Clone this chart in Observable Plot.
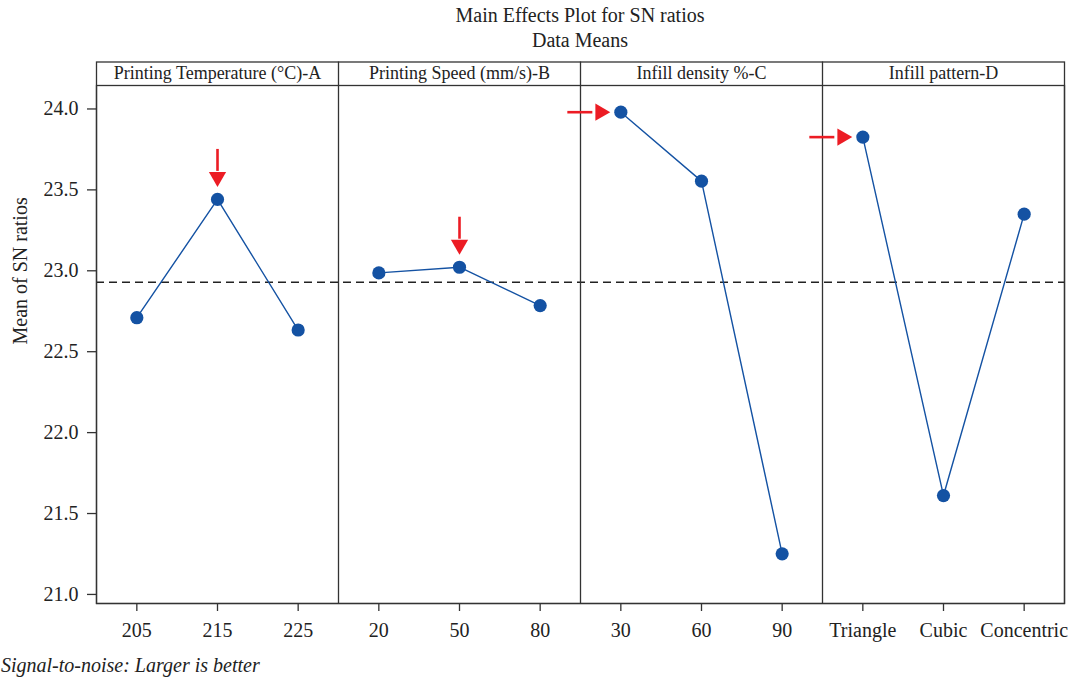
<!DOCTYPE html>
<html>
<head>
<meta charset="utf-8">
<script src="https://cdn.jsdelivr.net/npm/d3@7"></script>
<script src="https://cdn.jsdelivr.net/npm/@observablehq/plot@0.6"></script>
<style>
  html, body { margin: 0; padding: 0; background: #fff; }
  body { position: relative; width: 1077px; height: 682px; overflow: hidden; font-family: "Liberation Serif", serif; color: #222; }
  #title { position: absolute; left: 330px; width: 500px; top: 3px; text-align: center; font-size: 20px; line-height: 24.5px; }
  #chart { position: absolute; left: 0; top: 0; }
  #caption { position: absolute; left: 1px; top: 653px; font-size: 20px; line-height: 24px; font-style: italic; white-space: nowrap; }
</style>
</head>
<body>
<div id="chart"></div>
<div id="title">Main Effects Plot for SN ratios<br>Data Means</div>
<div id="caption">Signal-to-noise: Larger is better</div>
<script>
// ---- data ----
const factors = ["Printing Temperature (°C)-A", "Printing Speed (mm/s)-B", "Infill density %-C", "Infill pattern-D"];
const levelsA = ["205", "215", "225"];
const levelsB = ["20", "50", "80"];
const levelsC = ["30", "60", "90"];
const levelsD = ["Triangle", "Cubic", "Concentric"];
const snA = [22.710, 23.441, 22.634];
const snB = [22.987, 23.022, 22.785];
const snC = [23.980, 23.554, 21.251];
const snD = [23.826, 21.611, 23.350];
const arrowDir = ["down", "down", "right", "right"];
const yTicks = [21.0, 21.5, 22.0, 22.5, 23.0, 23.5, 24.0];

// ---- build table ----
const levels = [levelsA, levelsB, levelsC, levelsD];
const sns = [snA, snB, snC, snD];
const rows = [];
const groups = [];
let k = 0;
factors.forEach((f, i) => {
  const start = k;
  levels[i].forEach((lab, j) => { rows.push({factor: f, level: lab, idx: k, sn: sns[i][j]}); k++; });
  groups.push({factor: f, start, end: k - 1, center: (start + k - 1) / 2, dir: arrowDir[i]});
});
const labels = rows.map(r => r.level);
const boundaries = groups.slice(1).map(g => g.start - 0.5);
const grandMean = d3.mean(rows, r => r.sn);
const best = groups.map(g => ({...d3.greatest(rows.filter(r => r.factor === g.factor), r => r.sn), dir: g.dir}));
const downs = best.filter(b => b.dir === "down");
const rights = best.filter(b => b.dir === "right");

const blue = "#1452a3";
const red = "#ec1c24";
const ink = "#333";

const chart = Plot.plot({
  width: 1077,
  height: 650,
  marginLeft: 96,
  marginRight: 13,
  marginTop: 85,
  marginBottom: 47,
  style: {fontFamily: "'Liberation Serif', serif", fontSize: "20px", color: "#222", background: "#fff"},
  x: {type: "linear", domain: [-0.5, rows.length - 0.5], axis: null},
  y: {domain: [20.944, 24.145], axis: null},
  marks: [
    Plot.ruleY([grandMean], {stroke: "#222", strokeWidth: 1.3, strokeDasharray: "8,5"}),
    Plot.ruleX(boundaries, {stroke: ink, strokeWidth: 1.3, insetTop: -23.5}),
    Plot.frame({stroke: ink, strokeWidth: 1.3}),
    Plot.frame({stroke: ink, strokeWidth: 1.3, insetTop: -23.5}),
    Plot.text(groups, {x: "center", text: "factor", frameAnchor: "top", lineAnchor: "middle", dy: -12, fontSize: 18, fill: "#222"}),
    Plot.line(rows, {x: "idx", y: "sn", z: "factor", stroke: blue, strokeWidth: 1.4}),
    Plot.dot(rows, {x: "idx", y: "sn", r: 6.6, fill: blue, stroke: "none"}),
    Plot.ruleX(downs, {x: "idx", y1: "sn", y2: "sn", insetTop: -50, insetBottom: 28, stroke: red, strokeWidth: 2.6}),
    Plot.dot(downs, {x: "idx", y: "sn", symbol: "triangle", rotate: 180, r: 6.4, fill: red, stroke: "none", dy: -22.5}),
    Plot.ruleY(rights, {y: "sn", x1: "idx", x2: "idx", insetLeft: -53, insetRight: 28, stroke: red, strokeWidth: 2.6}),
    Plot.dot(rights, {x: "idx", y: "sn", symbol: "triangle", rotate: 90, r: 6.4, fill: red, stroke: "none", dx: -20.5}),
    Plot.axisX({ticks: rows.map(r => r.idx), tickFormat: i => labels[i], tickSize: 8, tickPadding: 11, stroke: ink, strokeWidth: 1.3, label: null, fontSize: 20}),
    Plot.axisY({ticks: yTicks, tickFormat: d3.format(".1f"), tickSize: 9, tickPadding: 9, stroke: ink, strokeWidth: 1.3, label: null, fontSize: 20}),
    Plot.text(["Mean of SN ratios"], {frameAnchor: "left", rotate: -90, dx: -76, fontSize: 20, fill: "#222"})
  ]
});
document.getElementById("chart").appendChild(chart);
</script>
</body>
</html>
